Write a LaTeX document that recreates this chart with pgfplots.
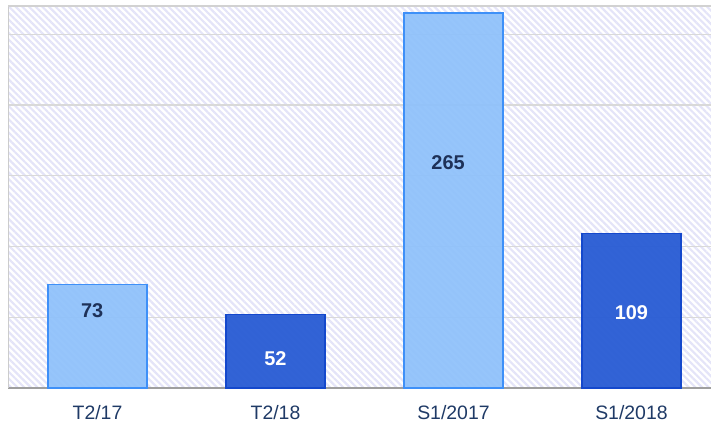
\documentclass[border=0pt]{standalone}
\usepackage{pgfplots}
\pgfplotsset{compat=1.18}
\usepackage{fontspec}
\setmainfont{Liberation Sans}
\usetikzlibrary{patterns.meta}
\definecolor{hatch}{HTML}{E4E4F8}
\definecolor{lightfill}{HTML}{8EC1FB}
\definecolor{lightedge}{HTML}{3E90F8}
\definecolor{darkfill}{HTML}{2A5DD4}
\definecolor{darkedge}{HTML}{1448CC}
\definecolor{navy}{HTML}{1E3158}
\definecolor{ticknavy}{HTML}{1F3A66}
\begin{document}
\begin{tikzpicture}
\useasboundingbox (-8.5bp,-35bp) rectangle (702.5bp,388bp);
\begin{axis}[
  scale only axis,
  width=702.5bp, height=382bp,
  xmin=-0.5, xmax=3.447,
  ymin=0, ymax=270,
  axis x line*=bottom, axis y line*=left,
  x axis line style={-, draw=gray!75, line width=1.5bp},
  y axis line style={-, draw=gray!40, line width=1.5bp},
  axis background/.style={pattern={Lines[angle=-45, distance=4.7bp, line width=2.2bp]}, pattern color=hatch},
  xtick={0,1,2,3},
  xticklabels={T2/17, T2/18, S1/2017, S1/2018},
  x tick label style={font=\fontsize{19.5}{21}\selectfont, text=ticknavy, yshift=-14bp},
  ytick={50,100,150,200,250},
  yticklabels={},
  major tick length=0pt,
  ymajorgrids,
  grid style={draw=gray!30, line width=1.3bp},
  ybar, bar width=99bp, bar shift=0pt,
  clip=false,
]
\addplot[fill=lightfill, draw=lightedge, line width=1.3bp, fill opacity=0.93] coordinates {(0,73) (2,265)};
\addplot[fill=darkfill, draw=darkedge, line width=1.3bp, fill opacity=0.96] coordinates {(1,52) (3,109)};
\draw[gray!35, line width=1.5bp] (rel axis cs:0,1) -- (rel axis cs:1,1);
\node[font=\fontsize{20}{22}\selectfont\bfseries, text=navy] at (axis cs:-0.03,55) {73};
\node[font=\fontsize{20}{22}\selectfont\bfseries, text=white] at (axis cs:1,21) {52};
\node[font=\fontsize{20}{22}\selectfont\bfseries, text=navy] at (axis cs:-0.03+2,159) {265};
\node[font=\fontsize{20}{22}\selectfont\bfseries, text=white] at (axis cs:3,53) {109};
\end{axis}
\end{tikzpicture}
\end{document}
